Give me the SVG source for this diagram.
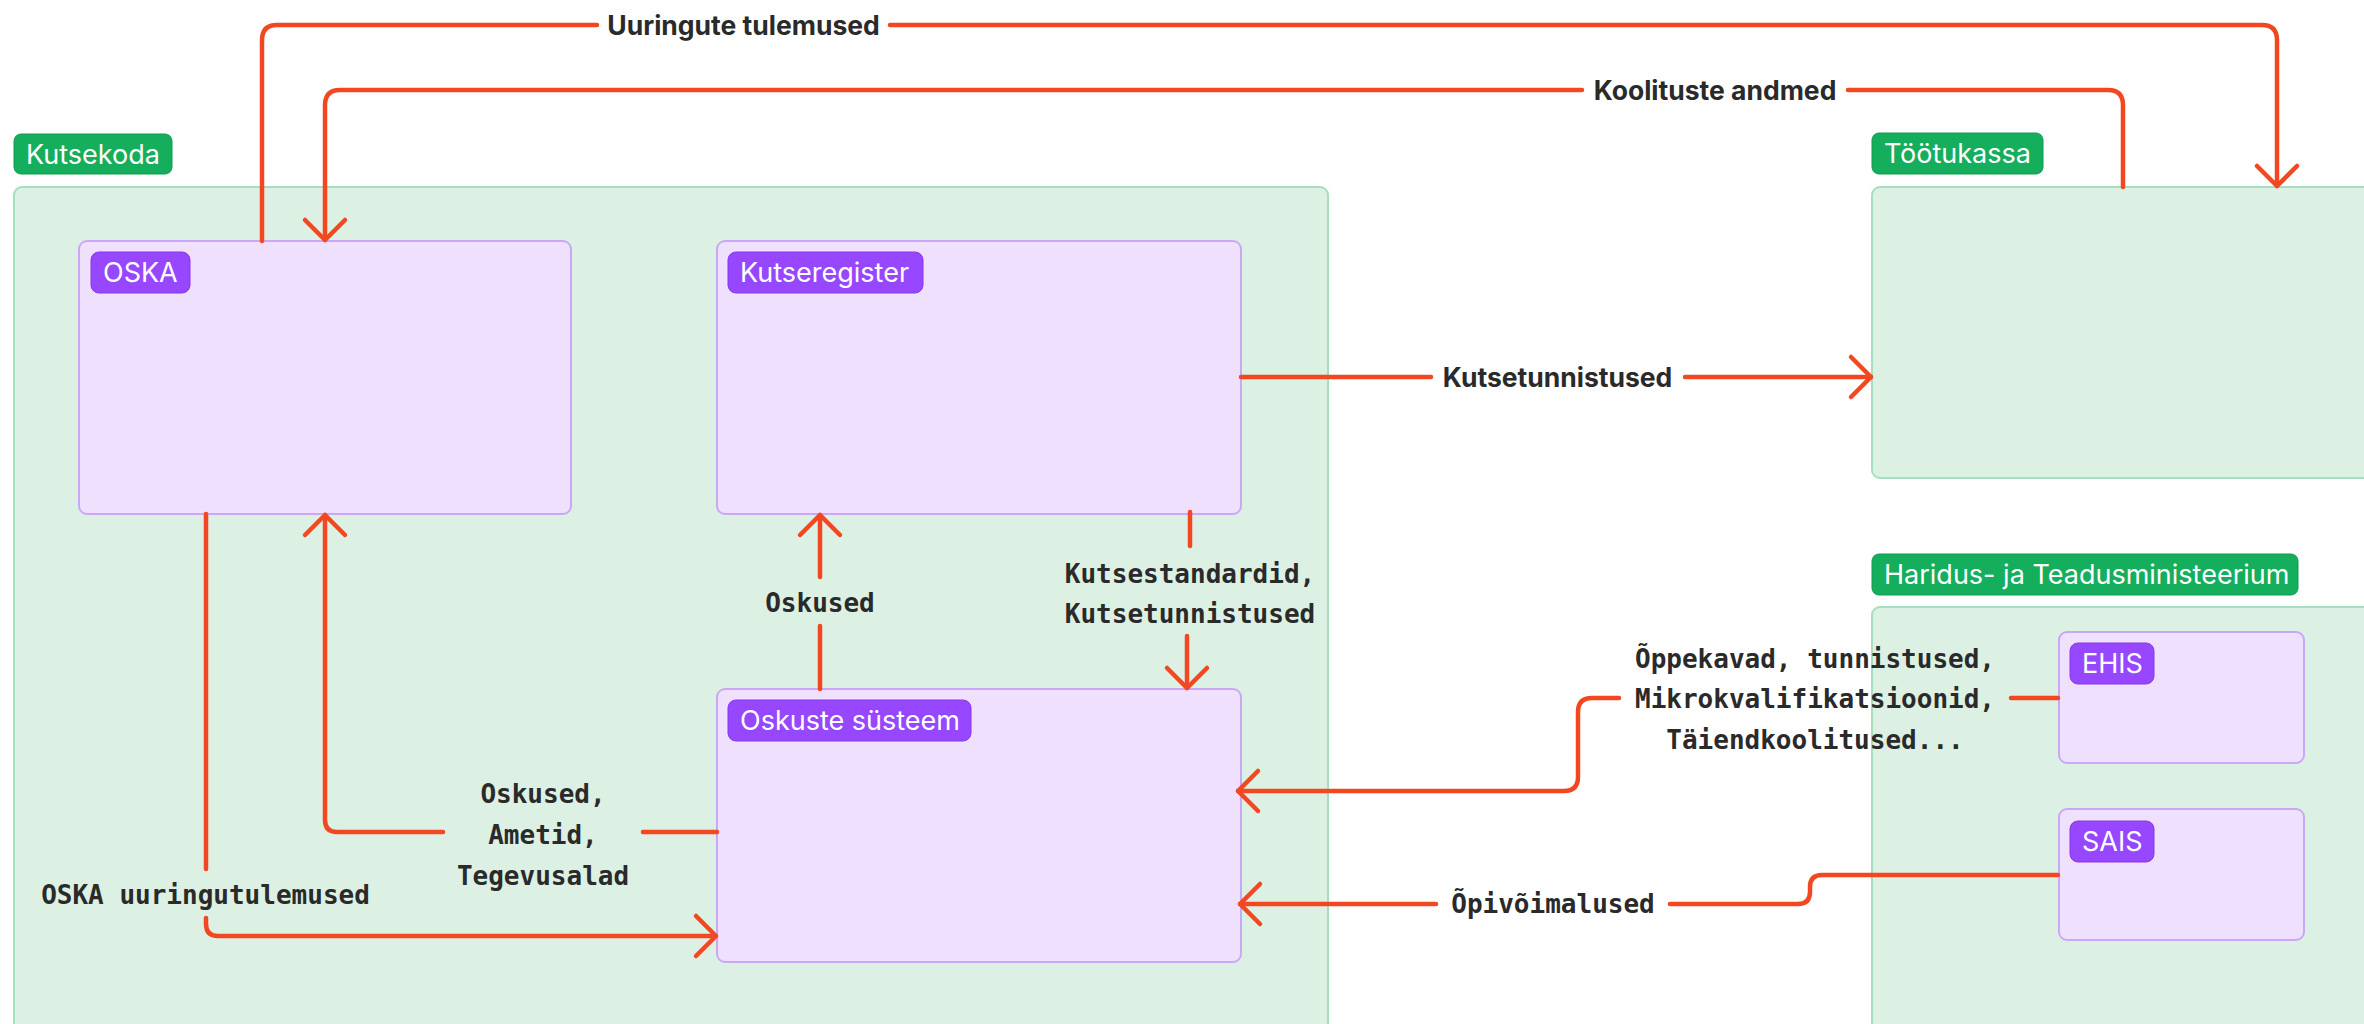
<svg xmlns="http://www.w3.org/2000/svg" width="2364" height="1024" viewBox="0 0 2364 1024">
<defs>
<marker id="arr" markerUnits="userSpaceOnUse" markerWidth="50" markerHeight="50" viewBox="-25 -25 50 50" refX="0" refY="0" orient="auto">
<path d="M-20,-20 L0,0 L-20,20" fill="none" stroke="#F24822" stroke-width="4.5" stroke-linecap="round" stroke-linejoin="round"/>
</marker>
</defs>
<style>
.cont{fill:#DCF1E3;stroke:#A6DFBD;stroke-width:2}
.gpill{fill:#14AE5C;stroke:#0F9D50;stroke-width:1}
.node{fill:#EFE0FE;stroke:#C9A8F7;stroke-width:2}
.ppill{fill:#9747FF;stroke:#8638E5;stroke-width:1}
.pt{font-family:Inter,"Noto Sans",sans-serif;font-size:27px;fill:#FFFFFF}
.c{fill:none;stroke:#F24822;stroke-width:4.5;stroke-linecap:round;stroke-linejoin:round}
.lb{font-family:Inter,"Liberation Sans",sans-serif;font-size:26.5px;font-weight:700;fill:#2A2A2A}
.lm{font-family:"DejaVu Sans Mono","Liberation Mono",monospace;font-size:26px;font-weight:bold;fill:#2A2A2A}
</style>
<rect width="2364" height="1024" fill="#FFFFFF"/>

<g id="kutsekoda">
<rect class="cont" x="14" y="187" width="1314" height="850" rx="8"/>
<rect class="gpill" x="14" y="134" width="158" height="40" rx="7"/>
<text class="pt" x="26" y="163.5">Kutsekoda</text>
</g>

<g id="tootukassa">
<rect class="cont" x="1872" y="187" width="520" height="291" rx="8"/>
<rect class="gpill" x="1872" y="133" width="171" height="41" rx="7"/>
<text class="pt" x="1884" y="163">Töötukassa</text>
</g>

<g id="htm">
<rect class="cont" x="1872" y="607" width="520" height="440" rx="8"/>
<rect class="gpill" x="1872" y="554" width="426" height="41" rx="7"/>
<text class="pt" x="1884" y="584">Haridus- ja Teadusministeerium</text>
</g>

<g id="oska">
<rect class="node" x="79" y="241" width="492" height="273" rx="8"/>
<rect class="ppill" x="91" y="252" width="99" height="41" rx="8"/>
<text class="pt" x="103" y="282">OSKA</text>
</g>

<g id="kutseregister">
<rect class="node" x="717" y="241" width="524" height="273" rx="8"/>
<rect class="ppill" x="728" y="252" width="195" height="41" rx="8"/>
<text class="pt" x="740" y="282">Kutseregister</text>
</g>

<g id="oskuste-systeem">
<rect class="node" x="717" y="689" width="524" height="273" rx="8"/>
<rect class="ppill" x="728" y="700" width="243" height="41" rx="8"/>
<text class="pt" x="740" y="730">Oskuste süsteem</text>
</g>

<g id="ehis">
<rect class="node" x="2059" y="632" width="245" height="131" rx="8"/>
<rect class="ppill" x="2070" y="643" width="84" height="41" rx="8"/>
<text class="pt" x="2082" y="673">EHIS</text>
</g>

<g id="sais">
<rect class="node" x="2059" y="809" width="245" height="131" rx="8"/>
<rect class="ppill" x="2070" y="821" width="84" height="41" rx="8"/>
<text class="pt" x="2082" y="851">SAIS</text>
</g>

<g id="connectors">
<path class="c" d="M262,241 V40 Q262,25 277,25 H597"/>
<path class="c" d="M890,25 H2262 Q2277,25 2277,40 V186" marker-end="url(#arr)"/>
<path class="c" d="M2123,187 V105 Q2123,90 2108,90 H1848"/>
<path class="c" d="M1582,90 H340 Q325,90 325,105 V240" marker-end="url(#arr)"/>
<path class="c" d="M1241,377 H1431"/>
<path class="c" d="M1685,377 H1871" marker-end="url(#arr)"/>
<path class="c" d="M820,689 V626"/>
<path class="c" d="M820,577 V515" marker-end="url(#arr)"/>
<path class="c" d="M1190,512 V546"/>
<path class="c" d="M1187,636 V688" marker-end="url(#arr)"/>
<path class="c" d="M2058,698 H2011"/>
<path class="c" d="M1619,698 H1592 Q1578,698 1578,712 V777 Q1578,791 1564,791 H1238" marker-end="url(#arr)"/>
<path class="c" d="M2058,875 H1822 Q1810,875 1810,887 V892 Q1810,904 1798,904 H1670"/>
<path class="c" d="M1436,904 H1240" marker-end="url(#arr)"/>
<path class="c" d="M717,832 H643"/>
<path class="c" d="M443,832 H337 Q325,832 325,820 V515" marker-end="url(#arr)"/>
<path class="c" d="M206,514 V869"/>
<path class="c" d="M206,918 V924 Q206,936 218,936 H716" marker-end="url(#arr)"/>

<text class="lb" x="743.5" y="25" text-anchor="middle" dominant-baseline="central">Uuringute tulemused</text>
<text class="lb" x="1715" y="90" text-anchor="middle" dominant-baseline="central">Koolituste andmed</text>
<text class="lb" x="1557.5" y="377" text-anchor="middle" dominant-baseline="central">Kutsetunnistused</text>
<text class="lm" x="820" y="603" text-anchor="middle" dominant-baseline="central">Oskused</text>
<text class="lm" x="1190" y="574" text-anchor="middle" dominant-baseline="central">Kutsestandardid,</text>
<text class="lm" x="1190" y="614" text-anchor="middle" dominant-baseline="central">Kutsetunnistused</text>
<text class="lm" x="1815" y="659" text-anchor="middle" dominant-baseline="central">Õppekavad, tunnistused,</text>
<text class="lm" x="1815" y="699" text-anchor="middle" dominant-baseline="central">Mikrokvalifikatsioonid,</text>
<text class="lm" x="1815" y="740" text-anchor="middle" dominant-baseline="central">Täiendkoolitused...</text>
<text class="lm" x="1553" y="904" text-anchor="middle" dominant-baseline="central">Õpivõimalused</text>
<text class="lm" x="543" y="794" text-anchor="middle" dominant-baseline="central">Oskused,</text>
<text class="lm" x="543" y="835" text-anchor="middle" dominant-baseline="central">Ametid,</text>
<text class="lm" x="543" y="876" text-anchor="middle" dominant-baseline="central">Tegevusalad</text>
<text class="lm" x="205.5" y="895" text-anchor="middle" dominant-baseline="central">OSKA uuringutulemused</text>
</g>
</svg>
